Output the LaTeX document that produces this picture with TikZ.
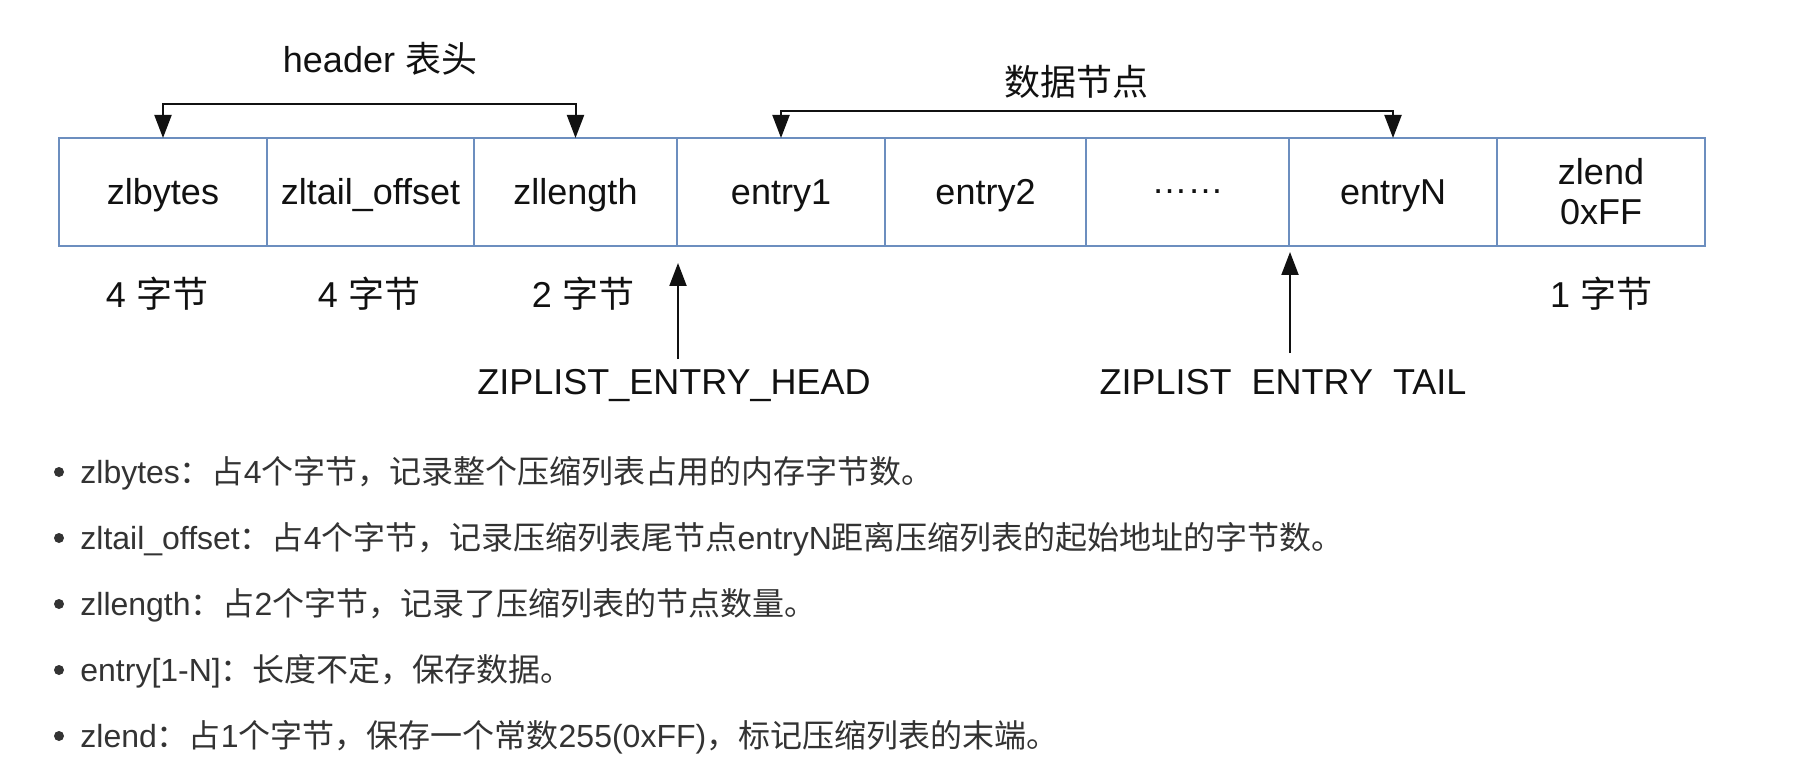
\documentclass[tikz,border=0pt]{standalone}
\usepackage{fontspec}
\setmainfont{Liberation Sans}
\newfontfamily\cjk{Noto Sans CJK SC}
\usetikzlibrary{arrows.meta,calc}
\definecolor{boxblue}{HTML}{6C8EBF}
\definecolor{txt}{HTML}{333333}
\definecolor{ink}{HTML}{111111}
\begin{document}
\begin{tikzpicture}[x=0.5pt,y=-0.5pt,
  cellbox/.style={draw=boxblue, line width=1pt, minimum height=54pt, inner sep=0pt, outer sep=0pt,
    font=\fontsize{18}{20}\selectfont, text=ink, align=center},
  oneline/.style={text height=13pt, text depth=0pt},
  lbl/.style={font=\fontsize{18}{22}\selectfont, text=ink, inner sep=0pt, anchor=base},
  arr/.style={draw=ink, line width=1pt, -{Triangle[length=11.5pt,width=8.5pt]}},
  darr/.style={draw=ink, line width=1pt, {Triangle[length=11.5pt,width=8.5pt]}-{Triangle[length=11.5pt,width=8.5pt]}},
  itemtext/.style={font=\fontsize{16}{20}\selectfont, text=txt, anchor=base west, inner sep=0pt},
  bulletdot/.style={circle, fill=txt, minimum size=5pt, inner sep=0pt}
]
\useasboundingbox (0,0) rectangle (1818,780);
\fill[white] (0,0) rectangle (1818,780);

% cells
\node[cellbox, oneline, minimum width=104pt]   (zlbytes)  at (163,192)    {zlbytes};
\node[cellbox, oneline, minimum width=103.5pt] (zltail)   at (370.5,192)  {zltail\_offset};
\node[cellbox, oneline, minimum width=101.5pt] (zllength) at (575.5,192)  {zllength};
\node[cellbox, oneline, minimum width=104pt]   (entry1)   at (781,192)    {entry1};
\node[cellbox, oneline, minimum width=100.5pt] (entry2)   at (985.5,192)  {entry2};
\node[cellbox, oneline, minimum width=101.5pt] (dots)     at (1187.5,192) {\raisebox{5.5pt}{……}};
\node[cellbox, oneline, minimum width=104pt]   (entryN)   at (1393,192)   {entryN};
\node[cellbox, minimum width=104pt]            (zlend)    at (1601,192)   {zlend\\0xFF};

% top brackets
\draw[darr] (zlbytes.north) -- ++(0,-34) -| (zllength.north);
\draw[darr] (entry1.north) -- ++(0,-27) -| (entryN.north);
\node[lbl] (hdr)  at (380,73) {header {\cjk 表头}};
\node[lbl] (data) at (1076,96) {{\cjk 数据节点}};

% byte labels
\node[lbl] (b1) at (157,307)  {4 {\cjk 字节}};
\node[lbl] (b2) at (369,307)  {4 {\cjk 字节}};
\node[lbl] (b3) at (583,307)  {2 {\cjk 字节}};
\node[lbl] (b4) at (1601,307) {1 {\cjk 字节}};

% pointers
\node[lbl] (headlbl) at (674,394)  {ZIPLIST\_ENTRY\_HEAD};
\node[lbl] (taillbl) at (1283,394) {ZIPLIST\hphantom{\_}ENTRY\hphantom{\_}TAIL};
\coordinate (hs) at (678,359);
\coordinate (he) at (678,263);
\coordinate (ts) at (1290,353);
\coordinate (te) at (1290,252);
\draw[arr] (hs) -- (he);
\draw[arr] (ts) -- (te);

% bullet list
\node[bulletdot] (d1) at (59,472) {};
\node[bulletdot] (d2) at (59,538) {};
\node[bulletdot] (d3) at (59,604) {};
\node[bulletdot] (d4) at (59,670) {};
\node[bulletdot] (d5) at (59,736) {};
\node[itemtext] (it1) at (80,483) {zlbytes{\cjk ：占}4{\cjk 个字节，记录整个压缩列表占用的内存字节数。}};
\node[itemtext] (it2) at (80,549) {zltail\_offset{\cjk ：占}4{\cjk 个字节，记录压缩列表尾节点}entryN{\cjk 距离压缩列表的起始地址的字节数。}};
\node[itemtext] (it3) at (80,615) {zllength{\cjk ：占}2{\cjk 个字节，记录了压缩列表的节点数量。}};
\node[itemtext] (it4) at (80,681) {entry[1-N]{\cjk ：长度不定，保存数据。}};
\node[itemtext] (it5) at (80,747) {zlend{\cjk ：占}1{\cjk 个字节，保存一个常数}255(0xFF){\cjk ，标记压缩列表的末端。}};
\end{tikzpicture}
\end{document}
